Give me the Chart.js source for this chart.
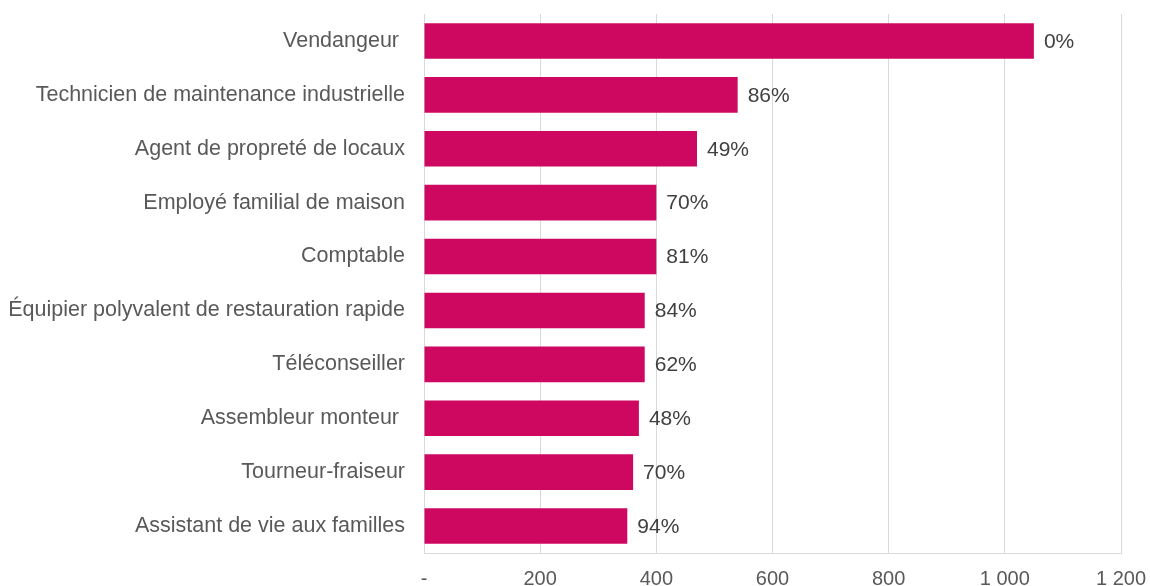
<!DOCTYPE html>
<html>
<head>
<meta charset="utf-8">
<script src="https://cdn.jsdelivr.net/npm/chart.js@4.4.0/dist/chart.umd.min.js"></script>
<style>
  html, body { margin: 0; padding: 0; background: #fff; }
  #wrap { width: 1150px; height: 586px; }
</style>
</head>
<body>
<div id="wrap"><canvas id="chart"></canvas></div>
<script>
const jobs = [
  'Vendangeur ',
  'Technicien de maintenance industrielle',
  'Agent de propreté de locaux',
  'Employé familial de maison',
  'Comptable',
  'Équipier polyvalent de restauration rapide',
  'Téléconseiller',
  'Assembleur monteur ',
  'Tourneur-fraiseur',
  'Assistant de vie aux familles',
];
const counts = [1050, 540, 470, 400, 400, 380, 380, 370, 360, 350];
const shares = ['0%', '86%', '49%', '70%', '81%', '84%', '62%', '48%', '70%', '94%'];

const font = 'Liberation Sans, Arial, sans-serif';

// percentage written at the end of each bar
const endLabels = {
  id: 'endLabels',
  afterDatasetsDraw(chart) {
    const ctx = chart.ctx;
    const meta = chart.getDatasetMeta(0);
    ctx.save();
    ctx.font = '21px ' + font;
    ctx.fillStyle = '#404040';
    ctx.textAlign = 'left';
    ctx.textBaseline = 'middle';
    meta.data.forEach((bar, i) => {
      ctx.fillText(shares[i], bar.x + 10, bar.y + 1);
    });
    ctx.restore();
  },
};

function spaced(v) {
  if (v === 0) return '-';
  return String(v).replace(/\B(?=(\d{3})+(?!\d))/g, ' ');
}

const chart = new Chart(document.getElementById('chart'), {
  type: 'bar',
  data: {
    labels: jobs,
    datasets: [
      {
        data: counts,
        backgroundColor: '#CE0860',
        borderWidth: 0,
        categoryPercentage: 1,
        barPercentage: 0.66,
      },
    ],
  },
  options: {
    indexAxis: 'y',
    responsive: true,
    maintainAspectRatio: false,
    animation: false,
    layout: { padding: { top: 14, right: 29, left: 0, bottom: 0 } },
    plugins: {
      legend: { display: false },
      tooltip: { enabled: false },
    },
    scales: {
      x: {
        min: 0,
        max: 1200,
        ticks: {
          stepSize: 200,
          callback: (v) => spaced(v),
          color: '#595959',
          font: { family: font, size: 20 },
          padding: 14,
          maxRotation: 0,
        },
        grid: { color: '#d9d9d9', drawTicks: false },
        border: { color: '#d9d9d9' },
        afterFit: (scale) => {
          scale.height = 33;
          scale.paddingLeft = 0;
          scale.paddingRight = 0;
        },
      },
      y: {
        ticks: {
          color: '#595959',
          font: { family: font, size: 21.5 },
          padding: 19,
        },
        grid: { display: false, drawTicks: false },
        border: { display: false },
        afterFit: (scale) => {
          scale.width = 424;
          scale.paddingTop = 0;
          scale.paddingBottom = 0;
        },
      },
    },
  },
  plugins: [endLabels],
});
</script>
</body>
</html>
